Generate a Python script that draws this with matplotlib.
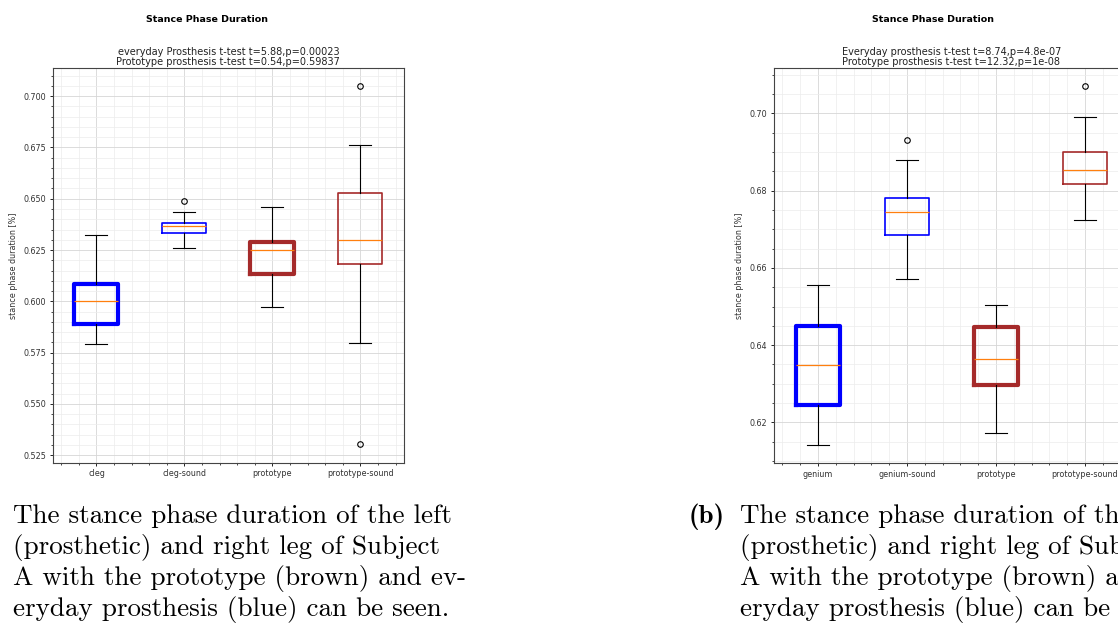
import matplotlib
matplotlib.use('Agg')
import matplotlib.pyplot as plt
from matplotlib.ticker import AutoMinorLocator, FormatStrFormatter

W, H = 1118, 623

# subject A, everyday prosthesis C-Leg
left_labels = ['cleg', 'cleg-sound', 'prototype', 'prototype-sound']
left_whislo = [0.579, 0.6258, 0.5971, 0.5797]
left_q1 = [0.589, 0.6334, 0.6132, 0.6182]
left_med = [0.600, 0.6368, 0.625, 0.630]
left_q3 = [0.6086, 0.6381, 0.6289, 0.6529]
left_whishi = [0.6323, 0.6433, 0.6462, 0.6762]
left_fliers = [[], [0.649], [], [0.7052, 0.5302]]
left_ttest = ['everyday Prosthesis t-test t=5.88,p=0.00023',
              'Prototype prosthesis t-test t=0.54,p=0.59837']

# subject A, everyday prosthesis Genium
right_labels = ['genium', 'genium-sound', 'prototype', 'prototype-sound']
right_whislo = [0.6141, 0.6572, 0.6172, 0.6723]
right_q1 = [0.6246, 0.6686, 0.6296, 0.6817]
right_med = [0.6348, 0.6744, 0.6365, 0.6853]
right_q3 = [0.645, 0.678, 0.6446, 0.6901]
right_whishi = [0.6555, 0.6879, 0.6504, 0.699]
right_fliers = [[], [0.6932], [], [0.7071]]
right_ttest = ['Everyday prosthesis t-test t=8.74,p=4.8e-07',
               'Prototype prosthesis t-test t=12.32,p=1e-08']

caption = ['The stance phase duration of the left',
           '(prosthetic) and right leg of Subject',
           'A with the prototype (brown) and ev-',
           'eryday prosthesis (blue) can be seen.']

box_colors = ['blue', 'blue', 'brown', 'brown']
box_lw = [3.0, 1.2, 3.0, 1.2]
small = 5.8


def px_axes(fig, x0, y0, x1, y1):
    return fig.add_axes([x0 / W, 1 - y1 / H, (x1 - x0) / W, (y1 - y0) / H])


def draw_box(ax, labels, lo, q1, med, q3, hi, fliers, ttest, ylim, yticks):
    stats = []
    for i in range(len(labels)):
        stats.append(dict(label=labels[i], whislo=lo[i], q1=q1[i], med=med[i],
                          q3=q3[i], whishi=hi[i], fliers=fliers[i]))
    res = ax.bxp(stats, widths=0.5,
                 whiskerprops=dict(color='black', lw=0.8),
                 capprops=dict(color='black', lw=0.8),
                 medianprops=dict(color='#ff7f0e', lw=0.9),
                 flierprops=dict(marker='o', markersize=4, markerfacecolor='none',
                                 markeredgecolor='black', markeredgewidth=0.8))
    for i, b in enumerate(res['boxes']):
        b.set_color(box_colors[i])
        b.set_linewidth(box_lw[i])
    ax.set_ylim(*ylim)
    ax.set_yticks(yticks)
    ax.yaxis.set_minor_locator(AutoMinorLocator())
    ax.xaxis.set_minor_locator(AutoMinorLocator())
    ax.grid(which='major', color='#d6d6d6', lw=0.6)
    ax.grid(which='minor', color='#ececec', lw=0.5)
    ax.set_axisbelow(True)
    ax.tick_params(which='major', labelsize=small, length=2.5, width=0.6, pad=2,
                   labelcolor='#333333')
    ax.tick_params(which='minor', length=1.3, width=0.5)
    for s in ax.spines.values():
        s.set_linewidth(0.8)
        s.set_color('#444444')
    ax.set_ylabel('stance phase duration [%]', fontsize=small, color='#333333',
                  labelpad=4)
    ax.set_title('\n'.join(ttest), fontsize=7.0, pad=2.5, color='#222222',
                 linespacing=0.95)


fig = plt.figure(figsize=(W / 100, H / 100), dpi=100)

ax1 = px_axes(fig, 52.5, 68.3, 404.3, 462.7)
draw_box(ax1, left_labels, left_whislo, left_q1, left_med, left_q3, left_whishi,
         left_fliers, left_ttest, (0.5213, 0.7136),
         [0.525, 0.55, 0.575, 0.6, 0.625, 0.65, 0.675, 0.7])
ax1.yaxis.set_major_formatter(FormatStrFormatter('%.3f'))

ax2 = px_axes(fig, 773.5, 68.3, 1129.5, 463.3)
draw_box(ax2, right_labels, right_whislo, right_q1, right_med, right_q3, right_whishi,
         right_fliers, right_ttest, (0.6094, 0.7117),
         [0.62, 0.64, 0.66, 0.68, 0.70])
ax2.yaxis.set_major_formatter(FormatStrFormatter('%.2f'))

fig.text(207 / W, 1 - 19 / H, 'Stance Phase Duration', ha='center', va='center',
         fontsize=6.8, fontweight='bold')
fig.text(933 / W, 1 - 19 / H, 'Stance Phase Duration', ha='center', va='center',
         fontsize=6.8, fontweight='bold')

# captions below the two panels
base = [523, 554, 585, 616]
for i, line in enumerate(caption):
    fig.text(13 / W, 1 - base[i] / H, line, ha='left', va='baseline',
             fontsize=19.5, family='cmr10')
    fig.text(740 / W, 1 - base[i] / H, line, ha='left', va='baseline',
             fontsize=19.5, family='cmr10')
fig.text(689 / W, 1 - base[0] / H, '(b)', ha='left', va='baseline',
         fontsize=19.5, family='cmb10')

fig.savefig('out.png', dpi=100)
